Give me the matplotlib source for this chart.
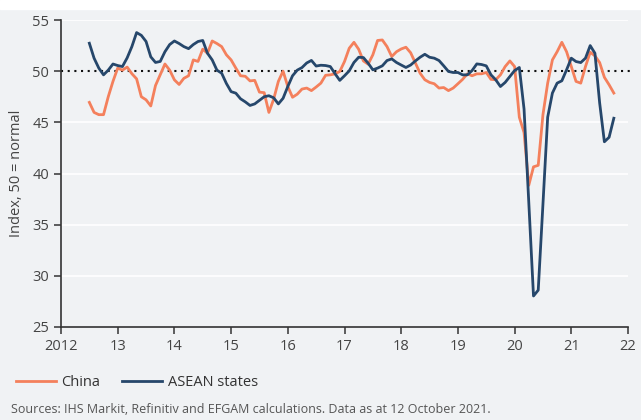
import matplotlib.pyplot as plt
import numpy as np

# monthly values, Jun 2012 .. Sep 2021
china = [46.95, 45.97, 45.75, 45.75, 47.5, 49.0, 50.3, 50.1, 50.4, 49.75,
         49.25, 47.5, 47.2, 46.6, 48.6, 49.65, 50.7, 50.1, 49.15, 48.7,
         49.3, 49.55, 51.1, 50.95, 52.15, 51.75, 52.95, 52.7, 52.4, 51.6,
         51.1, 50.3, 49.55, 49.5, 49.05, 49.1, 47.95, 47.9, 45.97, 47.25,
         49.0, 50.0, 48.5, 47.45, 47.75, 48.25, 48.35, 48.1, 48.45, 48.83,
         49.6, 49.64, 49.74, 49.97, 50.94, 52.24, 52.82, 52.14, 51.0, 50.68,
         51.6, 53.0, 53.05, 52.4, 51.43, 51.9, 52.17, 52.34, 51.8, 50.8,
         49.8, 49.16, 48.9, 48.77, 48.35, 48.4, 48.1, 48.35, 48.77, 49.2,
         49.74, 49.55, 49.74, 49.74, 49.87, 49.2, 49.16, 49.64, 50.45, 51.0,
         50.45, 45.5, 44.0, 38.85, 40.65, 40.8, 45.75, 48.83, 51.1, 51.9,
         52.82, 51.9, 50.45, 49.0, 48.83, 50.45, 51.85, 51.5, 50.84, 49.4,
         48.67, 47.86]
asean = [52.73, 51.27, 50.3, 49.64, 50.1, 50.7, 50.55, 50.45, 51.3, 52.4,
         53.77, 53.5, 52.9, 51.4, 50.85, 50.95, 51.9, 52.6, 52.95, 52.7,
         52.4, 52.2, 52.6, 52.9, 53.0, 51.75, 51.1, 50.1, 49.8, 48.8,
         48.0, 47.85, 47.3, 47.0, 46.65, 46.8, 47.15, 47.5, 47.6, 47.4,
         46.8, 47.35, 48.5, 49.55, 50.1, 50.35, 50.8, 51.05, 50.5, 50.58,
         50.55, 50.45, 49.75, 49.1, 49.55, 50.03, 50.85, 51.36, 51.33, 50.78,
         50.13, 50.3, 50.52, 51.04, 51.2, 50.85, 50.6, 50.36, 50.6, 51.0,
         51.36, 51.65, 51.36, 51.27, 51.04, 50.52, 49.97, 49.87, 49.87, 49.64,
         49.64, 50.06, 50.71, 50.65, 50.52, 49.64, 49.16, 48.5, 48.9, 49.48,
         50.06, 50.36, 46.3, 37.2, 28.03, 28.6, 37.0, 45.5, 47.86, 48.83,
         49.06, 50.13, 51.27, 50.94, 50.84, 51.27, 52.5, 51.75, 46.9, 43.1,
         43.54, 45.4]
t = 2012.5 + np.arange(len(china)) / 12

xticks = list(range(2012, 2023))
xlabels = ['2012'] + [str(y % 100) for y in xticks[1:]]
yticks = [25, 30, 35, 40, 45, 50, 55]

bg = '#f0f2f4'
orange = '#f4805c'
navy = '#26476b'
txt = '#444444'

plt.rcParams['font.family'] = ['Open Sans', 'DejaVu Sans']

fig = plt.figure(figsize=(6.41, 4.2), dpi=100)
fig.patch.set_facecolor(bg)
# white strip at top
fig.add_artist(plt.Rectangle((0, 1 - 9 / 420), 1, 9 / 420, transform=fig.transFigure,
                             color='white', zorder=0))

ax = fig.add_axes([61 / 641, 1 - 327 / 420, 567 / 641, 307 / 420])
ax.set_facecolor(bg)

for y in [30, 35, 40, 45, 55]:
    ax.axhline(y, color='white', linewidth=1.2, zorder=1)
ax.axhline(50, color='#111111', linestyle=(0, (1, 2.2)), linewidth=1.5, zorder=2, clip_on=False,
           xmax=1.003)

ax.plot(t, china, color=orange, linewidth=2.0, label='China', zorder=3)
ax.plot(t, asean, color=navy, linewidth=2.0, label='ASEAN states', zorder=4)

ax.set_xlim(2012, 2022)
ax.set_ylim(25, 55)
ax.set_xticks(xticks)
ax.set_xticklabels(xlabels)
ax.set_yticks(yticks)

for s in ['top', 'right']:
    ax.spines[s].set_visible(False)
for s in ['left', 'bottom']:
    ax.spines[s].set_color('#333333')
    ax.spines[s].set_linewidth(1.2)
ax.tick_params(colors='#333333', labelcolor=txt, labelsize=10.5, length=5, width=1.1)

ax.set_ylabel('Index, 50 = normal', color=txt, fontsize=10.5, labelpad=6)

leg = fig.legend(loc='lower left', bbox_to_anchor=(0.005, 0.04), ncol=2, frameon=False,
                 fontsize=10.5, handlelength=2.7, columnspacing=1.5, handletextpad=0.4)
for text in leg.get_texts():
    text.set_color('#333333')

fig.text(11 / 641, 4 / 420, 'Sources: IHS Markit, Refinitiv and EFGAM calculations. Data as at 12 October 2021.',
         color='#555555', fontsize=9.0, va='bottom', ha='left')

fig.savefig('out.png', dpi=100, facecolor=fig.get_facecolor())
